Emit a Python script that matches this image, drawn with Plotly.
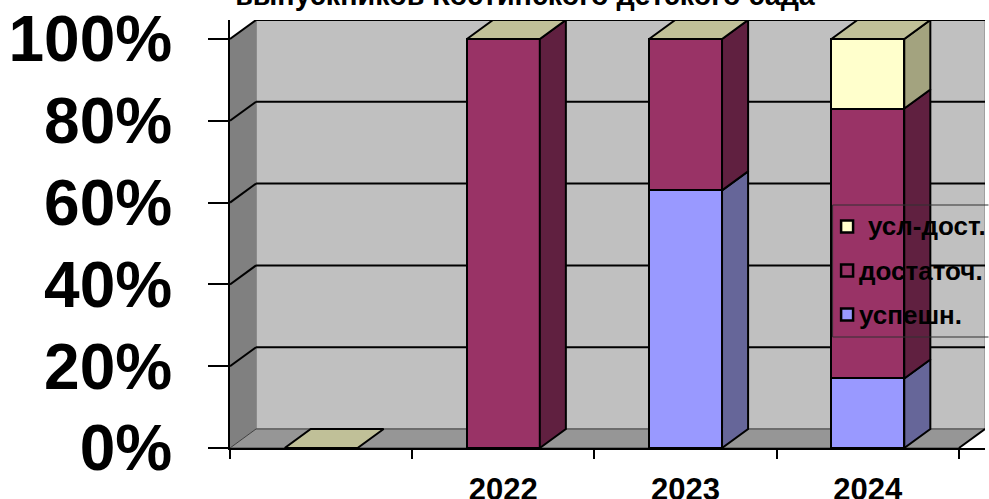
import plotly.graph_objects as go

categories = ["", "2022", "2023", "2024"]
uspeshn = [0, 0, 63, 17]
dostatoch = [0, 100, 37, 66]
usl_dost = [0, 0, 0, 17]
y_ticks = [0, 20, 40, 60, 80, 100]
y_tick_labels = ["0%", "20%", "40%", "60%", "80%", "100%"]
title_text = "выпускников Костинского детского сада"
legend_names = ["усл-дост.", "достаточ.", "успешн."]

FONT = "Liberation Sans"
BAR_W = 0.4
DX, DY = 0.143, 4.65
xs = [i + 0.5 for i in range(len(categories))]
x_max = float(len(categories))

series = [
    ("успешн.", uspeshn, "#9999FF", "#666699"),
    ("достаточ.", dostatoch, "#993366", "#602040"),
    ("усл-дост.", usl_dost, "#FFFFCC", "#A3A37F"),
]
TOP_COLOR = "#C0C098"

fig = go.Figure()
for name, vals, col, _ in series:
    fig.add_trace(go.Bar(x=xs, y=vals, name=name, width=BAR_W,
                         marker=dict(color=col, line=dict(color="black", width=2)),
                         showlegend=False))


def face(px, py, color):
    fig.add_trace(go.Scatter(x=px, y=py, mode="lines", fill="toself", fillcolor=color,
                             line=dict(color="black", width=2), hoverinfo="skip",
                             showlegend=False, cliponaxis=False))


for i, x in enumerate(xs):
    base = 0
    r = x + BAR_W / 2
    l = x - BAR_W / 2
    for _, vals, _, side in series:
        v = vals[i]
        if v > 0:
            face([r, r + DX, r + DX, r, r],
                 [base, base + DY, base + v + DY, base + v, base], side)
        base += v
    face([l, r, r + DX, l + DX, l], [base, base, base + DY, base + DY, base], TOP_COLOR)

shapes = []


def poly(pts, fill, line="#404040", w=1):
    path = "M" + "L".join(f"{a},{b}" for a, b in pts) + "Z"
    shapes.append(dict(type="path", path=path, xref="x", yref="y", fillcolor=fill,
                       line=dict(color=line, width=w), layer="below"))


top = y_ticks[-1]
poly([(DX, DY), (x_max + DX, DY), (x_max + DX, top + DY), (DX, top + DY)], "#C0C0C0", "#808080", 1)
poly([(0, 0), (DX, DY), (DX, top + DY), (0, top)], "#808080", "#808080", 1)
poly([(0, 0), (x_max, 0), (x_max + DX, DY), (DX, DY)], "#969696", "#404040", 1)
for t in y_ticks[1:]:
    shapes.append(dict(type="line", xref="x", yref="y", x0=0, y0=t, x1=DX, y1=t + DY,
                       line=dict(color="black", width=2), layer="below"))
    shapes.append(dict(type="line", xref="x", yref="y", x0=DX, y0=t + DY, x1=x_max + DX, y1=t + DY,
                       line=dict(color="black", width=2), layer="below"))
shapes.append(dict(type="line", xref="x", yref="y", x0=x_max, y0=0, x1=x_max + DX, y1=DY,
                   line=dict(color="black", width=2), layer="below"))


# legend block, placed in page pixels
L, T, W, H = 230, 20, 755.5, 428
def px(v): return (v - L) / W
def py(v): return (T + H - v) / H


for (a, b, c, d) in [(833, 205, 989, 205), (833, 337, 989, 337), (833, 205, 833, 337)]:
    shapes.append(dict(type="line", xref="paper", yref="paper", x0=px(a), y0=py(b), x1=px(c), y1=py(d),
                       line=dict(color="#303030", width=1)))
annotations = []
rows = [(226.5, "#FFFFCC", 866), (270.5, "#993366", 857), (314.5, "#9999FF", 857)]
for name, (cy, col, tx) in zip(legend_names, rows):
    shapes.append(dict(type="rect", xref="paper", yref="paper", x0=px(841.5), x1=px(853.5),
                       y0=py(cy - 6), y1=py(cy + 6), fillcolor=col,
                       line=dict(color="black", width=2.5)))
    annotations.append(dict(text=name, xref="paper", yref="paper", x=px(tx), y=py(cy),
                            xanchor="left", yanchor="middle", showarrow=False,
                            font=dict(family=FONT, size=26, color="black", weight=700)))

fig.update_layout(
    width=989, height=499,
    margin=dict(l=L, r=989 - L - W, t=T, b=499 - T - H, pad=0),
    paper_bgcolor="white", plot_bgcolor="white",
    barmode="stack", showlegend=False,
    title=dict(text=title_text, x=525 / 989, xanchor="center", xref="container",
               y=1 - 5 / 499, yref="container", yanchor="bottom",
               font=dict(family=FONT, size=28.7, color="black", weight=700)),
    xaxis=dict(range=[0, x_max + DX], tickvals=xs[1:], ticktext=categories[1:], automargin=False,
               ticks="outside", ticklen=0, showgrid=False, zeroline=False,
               showline=True, linecolor="black", linewidth=2, ticklabelstandoff=13,
               tickfont=dict(family=FONT, size=31, color="black", weight=700),
               minor=dict(tickvals=[float(i) for i in range(len(categories) + 1)],
                          ticks="outside", ticklen=9, tickwidth=1.5, tickcolor="black", showgrid=False)),
    yaxis=dict(range=[0, top + DY], tickvals=y_ticks, ticktext=y_tick_labels, automargin=False,
               ticks="outside", ticklen=20, tickwidth=1.5, tickcolor="black",
               showgrid=False, zeroline=False, showline=True, linecolor="black", linewidth=2,
               ticklabelstandoff=23,
               tickfont=dict(family=FONT, size=64, color="black", weight=700)),
    shapes=shapes, annotations=annotations,
)
fig.write_html("out.html", config={"displayModeBar": False},
               post_script="document.body.style.margin='0';document.body.style.overflow='hidden';")
